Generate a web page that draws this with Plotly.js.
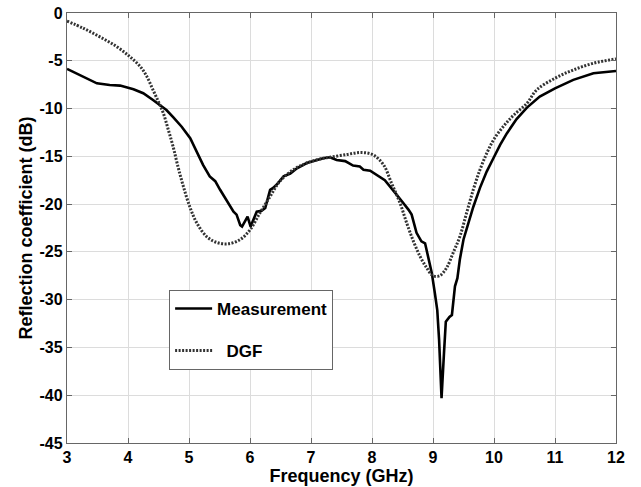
<!DOCTYPE html>
<html>
<head>
<meta charset="utf-8">
<script src="https://cdn.plot.ly/plotly-3.0.1.min.js"></script>
<style>html,body{margin:0;padding:0;background:#fff;}#chart{width:641px;height:487px;}</style>
</head>
<body>
<div id="chart"></div>
<script>
const measFreq = [3.0,3.21,3.49,3.70,3.87,4.09,4.25,4.41,4.55,4.63,4.74,4.88,5.02,5.13,5.23,5.34,5.43,5.51,5.62,5.73,5.78,5.84,5.87,5.96,6.01,6.11,6.19,6.25,6.33,6.38,6.46,6.55,6.66,6.77,6.93,7.20,7.31,7.42,7.56,7.69,7.80,7.86,7.97,8.10,8.21,8.30,8.38,8.49,8.60,8.65,8.73,8.81,8.87,8.92,8.98,9.03,9.07,9.10,9.14,9.18,9.21,9.27,9.31,9.36,9.40,9.44,9.50,9.58,9.66,9.77,9.88,9.99,10.10,10.21,10.37,10.54,10.75,11.0,11.30,11.63,12.0];
const measDb = [-5.85,-6.5,-7.36,-7.53,-7.6,-7.98,-8.4,-9.1,-9.73,-10.15,-10.9,-11.9,-13.1,-14.5,-15.9,-17.1,-17.6,-18.5,-19.6,-20.8,-21.1,-22.2,-22.35,-21.3,-22.35,-20.8,-20.7,-20.4,-18.5,-18.3,-17.8,-17.1,-16.8,-16.25,-15.7,-15.2,-15.1,-15.38,-15.5,-15.97,-16.07,-16.4,-16.5,-17.05,-17.5,-18.2,-18.8,-19.7,-20.6,-21.1,-23.0,-23.9,-24.1,-25.5,-27.2,-29.3,-31.1,-34.2,-40.3,-35.6,-32.3,-31.8,-31.6,-28.6,-27.75,-25.8,-23.7,-22.0,-20.3,-18.3,-16.6,-15.2,-13.8,-12.6,-11.1,-9.9,-8.75,-7.88,-7.0,-6.3,-6.07];
const dgfFreq = [3.0,3.27,3.54,3.81,4.03,4.20,4.31,4.41,4.50,4.58,4.66,4.74,4.82,4.91,5.02,5.13,5.29,5.45,5.64,5.84,6.00,6.16,6.33,6.49,6.71,6.93,7.20,7.31,7.59,7.83,8.02,8.19,8.32,8.46,8.57,8.68,8.79,8.90,9.00,9.11,9.22,9.33,9.44,9.55,9.66,9.77,9.88,9.99,10.15,10.32,10.54,10.70,11.0,11.30,11.63,12.0];
const dgfDb = [-0.85,-1.6,-2.5,-3.5,-4.57,-5.6,-6.66,-8.05,-9.3,-10.5,-12.2,-14.0,-16.1,-18.2,-20.4,-22.0,-23.4,-24.0,-24.16,-23.7,-22.7,-20.95,-19.2,-17.6,-16.4,-15.7,-15.2,-15.1,-14.8,-14.6,-14.85,-15.9,-17.8,-19.9,-22.0,-23.9,-25.5,-26.7,-27.5,-27.5,-26.7,-25.1,-23.4,-20.95,-18.5,-16.4,-14.7,-13.3,-11.9,-10.7,-9.45,-8.05,-6.83,-5.96,-5.26,-4.8];
const xTicks = [3,4,5,6,7,8,9,10,11,12];
const yTicks = [0,-5,-10,-15,-20,-25,-30,-35,-40,-45];
const seriesNames = ['Measurement', 'DGF'];

const fam = 'Liberation Sans, Arial, sans-serif';
const traces = [
  {x: measFreq, y: measDb, name: '<b>' + seriesNames[0] + '</b>', mode: 'lines', legendgroup: 'a',
   line: {color: '#000', width: 2.6}},
  {x: dgfFreq, y: dgfDb, name: '\u00a0\u00a0<b>' + seriesNames[1] + '</b>', mode: 'lines', legendgroup: 'b',
   line: {color: '#333', width: 3, dash: '2px,1.5px', shape: 'spline'}}
];
const axisCommon = {
  showgrid: true, gridcolor: '#dcdcdc', gridwidth: 1,
  showline: true, linecolor: '#666', linewidth: 1.2, mirror: 'ticks',
  ticks: 'inside', ticklen: 5, tickcolor: '#666', zeroline: false,
  tickfont: {family: fam, size: 16, color: '#000', weight: 'bold'}
};
const layout = {
  width: 641, height: 487,
  margin: {l: 67, r: 25, t: 13, b: 44},
  paper_bgcolor: '#fff', plot_bgcolor: '#fff',
  font: {family: fam, size: 16, color: '#000'},
  showlegend: true,
  legend: {
    x: 0.186, y: 0.356, xanchor: 'left', yanchor: 'top',
    bgcolor: '#fff', bordercolor: '#666', borderwidth: 1,
    traceorder: 'grouped', tracegroupgap: 17,
    font: {family: fam, size: 17, color: '#000'},
    itemwidth: 37
  },
  xaxis: Object.assign({}, axisCommon, {
    range: [3, 12], tickvals: xTicks, ticktext: xTicks.map(String),
    title: {text: '<b>Frequency (GHz)</b>', font: {family: fam, size: 18, color: '#000'}, standoff: 0}
  }),
  yaxis: Object.assign({}, axisCommon, {
    range: [-45, 0], tickvals: yTicks, ticktext: yTicks.map(String),
    title: {text: '<b>Reflection coefficient (dB)</b>', font: {family: fam, size: 18, color: '#000'}, standoff: 2}
  })
};
Plotly.newPlot('chart', traces, layout, {displayModeBar: false, staticPlot: true});
</script>
</body>
</html>
